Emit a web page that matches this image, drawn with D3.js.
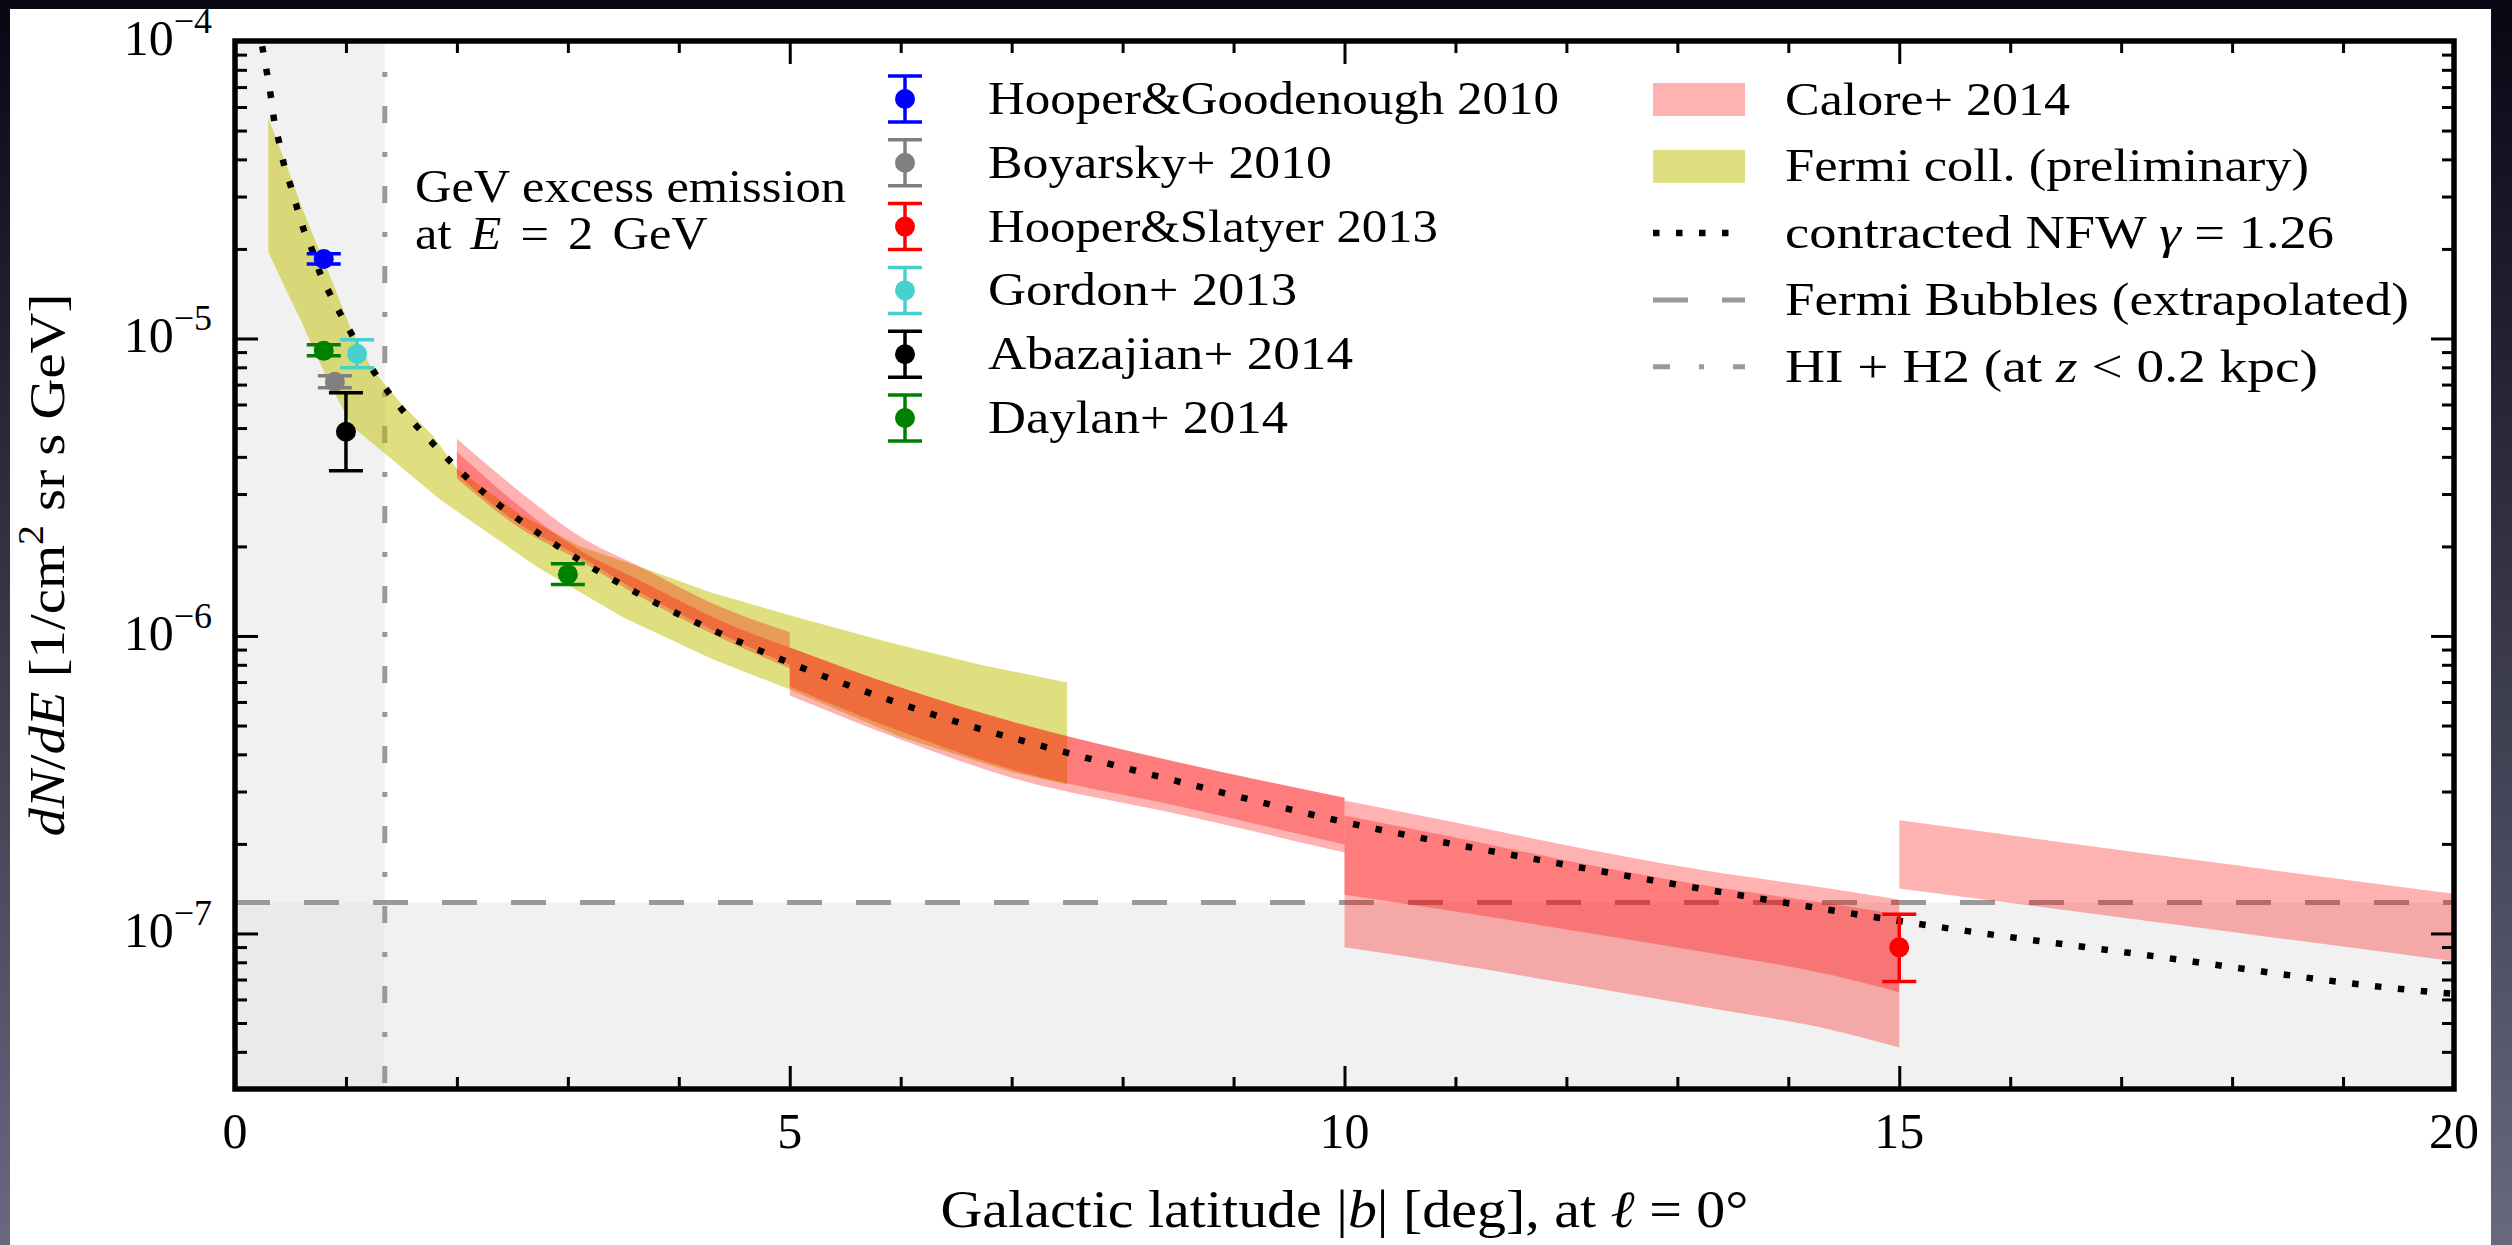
<!DOCTYPE html>
<html>
<head>
<meta charset="utf-8">
<script src="https://cdn.jsdelivr.net/npm/d3@7"></script>
<style>
  html, body { margin: 0; padding: 0; background: #0a0a18; }
  svg { display: block; }
  text { font-family: "Liberation Serif", "Times New Roman", serif; fill: #000; }
</style>
</head>
<body>
<svg id="fig" width="2512" height="1245"></svg>
<script>
// ---------------- data ----------------
// contracted NFW (gamma = 1.26) profile, dN/dE at E = 2 GeV vs |b|
const nfwB = [0.245, 0.288, 0.324, 0.351, 0.397, 0.44, 0.505, 0.559, 0.62, 0.694, 0.766, 0.856, 1.045, 1.145,
  1.379, 1.785, 2.235, 2.731, 3.614, 4.561, 5.507, 6.498, 7.49, 8.68, 9.887, 11.924, 13.961, 15.6, 17.03, 19.93, 20.0];
const nfwFlux = [9.6e-5, 7.81e-5, 6.48e-5, 5.47e-5, 4.58e-5, 3.86e-5, 3.23e-5, 2.75e-5, 2.32e-5, 1.99e-5, 1.66e-5, 1.41e-5, 1.045e-5, 8.95e-6,
  6.62e-6, 4.43e-6, 3.05e-6, 2.22e-6, 1.40e-6, 9.5e-7, 6.87e-7, 5.15e-7, 4.06e-7, 3.12e-7, 2.42e-7, 1.72e-7, 1.27e-7, 1.02e-7, 8.65e-8, 6.3e-8, 6.27e-8];

// Fermi collaboration (preliminary) band: upper and lower edges
const fermiUpperB = [0.30, 0.47, 0.60, 0.74, 0.88, 1.04, 1.24, 1.49, 1.79, 2.00, 2.57, 3.11, 3.65, 4.29, 5.07, 5.90, 6.72, 7.50];
const fermiUpper = [5.51e-5, 3.77e-5, 2.77e-5, 2.06e-5, 1.54e-5, 1.086e-5, 7.85e-6, 6.08e-6, 4.68e-6, 3.65e-6, 2.56e-6, 2.00e-6,
  1.71e-6, 1.40e-6, 1.153e-6, 9.50e-7, 8.01e-7, 6.97e-7];
const fermiLowerB = [0.30, 0.43, 0.59, 0.74, 0.88, 1.06, 1.85, 2.72, 3.50, 4.31, 5.00, 5.99, 7.01, 7.50];
const fermiLower = [1.955e-5, 1.54e-5, 1.156e-5, 8.68e-6, 6.73e-6, 5.05e-6, 2.87e-6, 1.71e-6, 1.153e-6, 8.33e-7, 6.61e-7,
  4.59e-7, 3.48e-7, 3.17e-7];

// Calore+ 2014: two overlapping uncertainty bands (A, B) per latitude bin
const caloreBinB = [
  [2.0, 2.57, 3.11, 3.65, 4.37, 5.0],
  [5.0, 6.0, 7.0, 8.5, 10.0],
  [10.0, 11.0, 12.0, 13.2, 14.4, 15.0],
  [15.0, 17.5, 20.0]
];
const caloreUpperA = [
  [4.60e-6, 3.05e-6, 2.16e-6, 1.71e-6, 1.256e-6, 1.03e-6],
  [9.14e-7, 6.71e-7, 5.16e-7, 3.76e-7, 2.86e-7],
  [2.80e-7, 2.36e-7, 1.98e-7, 1.64e-7, 1.41e-7, 1.30e-7],
  [2.40e-7, 1.80e-7, 1.36e-7]
];
const caloreLowerA = [
  [3.38e-6, 2.30e-6, 1.79e-6, 1.356e-6, 9.88e-7, 7.77e-7],
  [6.76e-7, 4.77e-7, 3.56e-7, 2.68e-7, 1.99e-7],
  [1.35e-7, 1.186e-7, 1.032e-7, 8.71e-8, 7.23e-8, 6.34e-8],
  [1.417e-7, 1.07e-7, 8.06e-8]
];
const caloreUpperB = [
  [4.16e-6, 2.72e-6, 1.94e-6, 1.535e-6, 1.127e-6, 9.14e-7],
  [9.14e-7, 6.71e-7, 5.16e-7, 3.76e-7, 2.86e-7],
  [2.49e-7, 2.10e-7, 1.76e-7, 1.46e-7, 1.255e-7, 1.157e-7],
  null
];
const caloreLowerB = [
  [3.49e-6, 2.37e-6, 1.85e-6, 1.40e-6, 1.02e-6, 8.0e-7],
  [6.31e-7, 4.49e-7, 3.34e-7, 2.52e-7, 1.87e-7],
  [8.98e-8, 7.87e-8, 6.80e-8, 5.69e-8, 4.73e-8, 4.14e-8],
  null
];

// individual measurements with error bars
const refNames = ["Hooper&Goodenough 2010", "Boyarsky+ 2010", "Hooper&Slatyer 2013", "Gordon+ 2013", "Abazajian+ 2014", "Daylan+ 2014"];
const refB = [[0.80], [0.90], [15.0], [1.10], [1.00], [0.80, 3.0]];
const refFlux = [[1.85e-5], [7.15e-6], [8.98e-8], [8.88e-6], [4.86e-6], [9.09e-6, 1.61e-6]];
const refLow = [[1.78e-5], [6.83e-6], [6.9e-8], [7.97e-6], [3.59e-6], [8.75e-6, 1.49e-6]];
const refHigh = [[1.925e-5], [7.5e-6], [1.16e-7], [9.9e-6], [6.57e-6], [9.53e-6, 1.75e-6]];
const refColors = ["#0000ff", "#808080", "#ff0000", "#48d1cc", "#000000", "#008000"];

// reference levels
const gasLatitude = 1.35;        // HI + H2 at z < 0.2 kpc
const bubblesLevel = 1.27e-7;    // Fermi Bubbles (extrapolated)

// axis ticks
const xMajor = [0, 5, 10, 15, 20];
const yMajor = [1e-7, 1e-6, 1e-5, 1e-4];
const yMajorExp = [-7, -6, -5, -4];

// ---------------- layout ----------------
const W = 2512, H = 1245;
const L = 235, R = 2454, T = 41, B = 1089;
const legendFont = 47;
const leftLegendWidths = [571, 344, 450, 309, 365, 300];
const rightLegendWidths = [285, 524, 549, 624, 533];

const svg = d3.select("#fig");
const defs = svg.append("defs");

const grad = defs.append("linearGradient").attr("id", "frameGrad")
  .attr("x1", 0).attr("y1", 0).attr("x2", 0).attr("y2", 1);
grad.append("stop").attr("offset", 0).attr("stop-color", "#070714");
grad.append("stop").attr("offset", 1).attr("stop-color", "#68687f");
svg.append("rect").attr("width", W).attr("height", H).attr("fill", "url(#frameGrad)");
svg.append("rect").attr("x", 10).attr("y", 9).attr("width", 2481).attr("height", H - 9).attr("fill", "#ffffff");

const x = d3.scaleLinear().domain([0, 20]).range([L, R]);
const y = d3.scaleLog().domain([3e-8, 1e-4]).range([B, T]);

defs.append("clipPath").attr("id", "plotClip").append("rect")
  .attr("x", L).attr("y", T).attr("width", R - L).attr("height", B - T);
const plot = svg.append("g").attr("clip-path", "url(#plotClip)");

// shaded regions: low latitudes and below the bubbles level
plot.append("rect").attr("x", x(0)).attr("y", y(1e-4))
  .attr("width", x(gasLatitude) - x(0)).attr("height", y(bubblesLevel) - y(1e-4)).attr("fill", "#f1f1f1");
plot.append("rect").attr("x", x(gasLatitude)).attr("y", y(bubblesLevel))
  .attr("width", x(20) - x(gasLatitude)).attr("height", y(3e-8) - y(bubblesLevel)).attr("fill", "#f1f1f1");
plot.append("rect").attr("x", x(0)).attr("y", y(bubblesLevel))
  .attr("width", x(gasLatitude) - x(0)).attr("height", y(3e-8) - y(bubblesLevel)).attr("fill", "#eaeaea");

// reference lines
plot.append("line").attr("x1", x(0)).attr("x2", x(20)).attr("y1", y(bubblesLevel)).attr("y2", y(bubblesLevel))
  .attr("stroke", "#999999").attr("stroke-width", 5).attr("stroke-dasharray", "35,34");
plot.append("line").attr("x1", x(gasLatitude)).attr("x2", x(gasLatitude)).attr("y1", y(1e-4)).attr("y2", y(3e-8))
  .attr("stroke", "#999999").attr("stroke-width", 5).attr("stroke-dasharray", "17,29,5,29").attr("stroke-dashoffset", 15);

// Fermi band
const fermiPoly = fermiUpperB.map((b, i) => [x(b), y(fermiUpper[i])])
  .concat(fermiLowerB.map((b, i) => [x(b), y(fermiLower[i])]).reverse());
plot.append("path").attr("d", d3.line()(fermiPoly) + "Z")
  .attr("fill", "rgb(191,191,0)").attr("fill-opacity", 0.5);

// Calore bands
const band = d3.area().x(d => x(d[0])).y0(d => y(d[1])).y1(d => y(d[2])).curve(d3.curveMonotoneX);
caloreBinB.forEach((bs, k) => {
  plot.append("path").attr("d", band(d3.zip(bs, caloreLowerA[k], caloreUpperA[k])))
    .attr("fill", "#ff0000").attr("fill-opacity", 0.3);
  if (caloreUpperB[k]) {
    plot.append("path").attr("d", band(d3.zip(bs, caloreLowerB[k], caloreUpperB[k])))
      .attr("fill", "#ff0000").attr("fill-opacity", 0.3);
  }
});

// NFW profile
const nfwLine = d3.line().x(d => x(d[0])).y(d => y(d[1])).curve(d3.curveMonotoneX);
plot.append("path").attr("d", nfwLine(d3.zip(nfwB, nfwFlux)))
  .attr("fill", "none").attr("stroke", "#000").attr("stroke-width", 6.5)
  .attr("stroke-dasharray", "6.5,16.5");

// measurements
function errorMark(g, cx, cyLow, cyHigh, cy, color) {
  g.append("line").attr("x1", cx).attr("x2", cx).attr("y1", cyLow).attr("y2", cyHigh)
    .attr("stroke", color).attr("stroke-width", 3.5);
  [cyLow, cyHigh].forEach(cc => g.append("line").attr("x1", cx - 17).attr("x2", cx + 17)
    .attr("y1", cc).attr("y2", cc).attr("stroke", color).attr("stroke-width", 3.5));
  g.append("circle").attr("cx", cx).attr("cy", cy).attr("r", 10).attr("fill", color);
}
const marks = svg.append("g");
refNames.forEach((name, k) => {
  refB[k].forEach((b, i) => {
    errorMark(marks, x(b), y(refLow[k][i]), y(refHigh[k][i]), y(refFlux[k][i]), refColors[k]);
  });
});

// ---------------- axes ----------------
const yMinor = [];
for (let e = -8; e <= -5; e++) for (let m = 2; m <= 9; m++) {
  const v = m * Math.pow(10, e);
  if (v > 3.05e-8 && v < 1e-4) yMinor.push(v);
}
const xMinor = d3.range(0, 21).filter(v => v % 5 !== 0);

function styleAxis(g) {
  g.select(".domain").remove();
  g.selectAll(".tick line").attr("stroke", "#000").attr("stroke-width", 3);
  g.selectAll(".tick text").remove();
}
const axes = svg.append("g");
[[yMajor, 23], [yMinor, 12]].forEach(([vals, len]) => {
  axes.append("g").attr("transform", `translate(${L},0)`).call(d3.axisLeft(y).tickValues(vals).tickSize(-len)).call(styleAxis);
  axes.append("g").attr("transform", `translate(${R},0)`).call(d3.axisRight(y).tickValues(vals).tickSize(-len)).call(styleAxis);
});
[[xMajor, 23], [xMinor, 12]].forEach(([vals, len]) => {
  axes.append("g").attr("transform", `translate(0,${B})`).call(d3.axisBottom(x).tickValues(vals).tickSize(-len)).call(styleAxis);
  axes.append("g").attr("transform", `translate(0,${T})`).call(d3.axisTop(x).tickValues(vals).tickSize(-len)).call(styleAxis);
});
axes.append("rect").attr("x", L).attr("y", T).attr("width", R - L).attr("height", B - T)
  .attr("fill", "none").attr("stroke", "#000").attr("stroke-width", 5.5);

// tick labels
xMajor.forEach(v => {
  svg.append("text").attr("x", x(v)).attr("y", 1148).attr("text-anchor", "middle")
    .attr("font-size", 50).text(v);
});
yMajor.forEach((v, i) => {
  const t = svg.append("text").attr("x", 212).attr("y", y(v) + 14).attr("text-anchor", "end").attr("font-size", 50);
  t.append("tspan").text("10");
  t.append("tspan").attr("font-size", 36).attr("dy", -22).text("\u2212" + Math.abs(yMajorExp[i]));
});

function stretch(sel, width) {
  return sel.attr("textLength", width).attr("lengthAdjust", "spacingAndGlyphs");
}

// axis titles
const xt = svg.append("text").attr("x", (L + R) / 2).attr("y", 1227).attr("text-anchor", "middle").attr("font-size", 52);
xt.append("tspan").text("Galactic latitude |");
xt.append("tspan").attr("font-style", "italic").text("b");
xt.append("tspan").text("| [deg], at ");
xt.append("tspan").attr("font-style", "italic").text("\u2113");
xt.append("tspan").text(" = 0\u00b0");
stretch(xt, 808);

const yt = svg.append("text").attr("transform", `translate(64,${(T + B) / 2}) rotate(-90)`)
  .attr("text-anchor", "middle").attr("font-size", 50);
yt.append("tspan").attr("font-style", "italic").text("dN");
yt.append("tspan").text("/");
yt.append("tspan").attr("font-style", "italic").text("dE");
yt.append("tspan").text(" [1/cm");
yt.append("tspan").attr("font-size", 35).attr("dy", -21).text("2");
yt.append("tspan").attr("dy", 21).text(" sr s GeV]");
stretch(yt, 543);

// annotation (two lines in one text block)
const annG = svg.append("g");
const annText = annG.append("text").attr("font-size", legendFont);
const annLine1 = annText.append("tspan").attr("x", 0).attr("y", 202).text("GeV excess emission");
const annLine2 = annText.append("tspan").attr("x", 0).attr("y", 249);
annLine2.append("tspan").text("at ");
annLine2.append("tspan").attr("font-style", "italic").text("E");
annLine2.append("tspan").text(" = 2 GeV");
const annScale = 431 / annLine1.node().getComputedTextLength();
annG.attr("transform", `translate(415,0) scale(${annScale},1)`);
annLine2.attr("word-spacing", 6.5 / annScale);

// ---------------- legends ----------------
const legL = svg.append("g");
refNames.forEach((name, k) => {
  const ry = 99 + 63.8 * k;
  errorMark(legL, 905, ry + 23, ry - 23, ry, refColors[k]);
  stretch(legL.append("text").attr("x", 988).attr("y", ry + 15).attr("font-size", legendFont).text(name),
    leftLegendWidths[k]);
});

const legR = svg.append("g");
const rowR = k => 99.5 + 66.8 * k;
legR.append("rect").attr("x", 1653).attr("y", rowR(0) - 16.5).attr("width", 92).attr("height", 33)
  .attr("fill", "#ff0000").attr("fill-opacity", 0.3);
legR.append("rect").attr("x", 1653).attr("y", rowR(1) - 16.5).attr("width", 92).attr("height", 33)
  .attr("fill", "rgb(191,191,0)").attr("fill-opacity", 0.5);
legR.append("line").attr("x1", 1653).attr("x2", 1745).attr("y1", rowR(2)).attr("y2", rowR(2))
  .attr("stroke", "#000").attr("stroke-width", 6.5).attr("stroke-dasharray", "6.5,16.5");
legR.append("line").attr("x1", 1653).attr("x2", 1745).attr("y1", rowR(3)).attr("y2", rowR(3))
  .attr("stroke", "#999999").attr("stroke-width", 5).attr("stroke-dasharray", "35,34");
legR.append("line").attr("x1", 1653).attr("x2", 1745).attr("y1", rowR(4)).attr("y2", rowR(4))
  .attr("stroke", "#999999").attr("stroke-width", 5).attr("stroke-dasharray", "17,29,5,29");

function legText(k) {
  return legR.append("text").attr("x", 1785).attr("y", rowR(k) + 15).attr("font-size", legendFont);
}
const r0 = legText(0).text("Calore+ 2014");
const r1 = legText(1).text("Fermi coll. (preliminary)");
const r2 = legText(2);
r2.append("tspan").text("contracted NFW ");
r2.append("tspan").attr("font-style", "italic").text("\u03b3");
r2.append("tspan").text(" = 1.26");
const r3 = legText(3).text("Fermi Bubbles (extrapolated)");
const r4 = legText(4);
r4.append("tspan").text("HI + H2 (at ");
r4.append("tspan").attr("font-style", "italic").text("z");
r4.append("tspan").text(" < 0.2 kpc)");
[r0, r1, r2, r3, r4].forEach((t, k) => stretch(t, rightLegendWidths[k]));
</script>
</body>
</html>
